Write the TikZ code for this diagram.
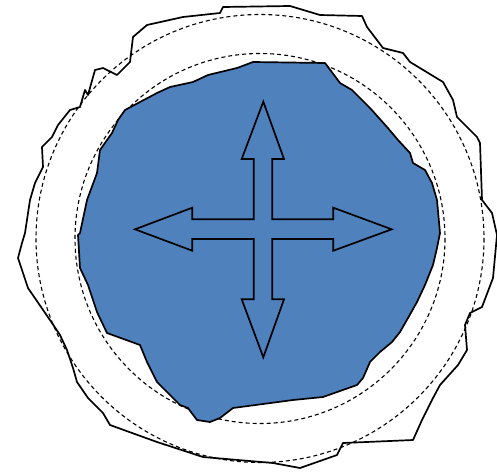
\documentclass[tikz,border=0pt]{standalone}
\usepackage{tikz}
\definecolor{cellblue}{HTML}{4F81BD}
\begin{document}
\begin{tikzpicture}[x=1pt,y=-1pt,
  rim/.style={draw=black,fill=white,line width=1.7pt,line join=round},
  cell/.style={draw=black,fill=cellblue,line width=1.7pt,line join=round},
  ring/.style={draw=black,dash pattern=on 4pt off 3pt,line width=1.1pt},
  push/.style={draw=black,line width=1.7pt,line join=miter}]
\useasboundingbox (0,0) rectangle (497,471);
\draw[rim] (223,7) -- (290,6) -- (320,15) -- (362,16) -- (367,27) -- (383,48) -- (403,53)
  -- (410,62) -- (443,82) -- (453,100) -- (457,117) -- (477,137) -- (480,143) -- (482,200)
  -- (492,213) -- (497,235) -- (493,278) -- (482,307) -- (470,313) -- (465,325) -- (467,350)
  -- (458,365) -- (440,385) -- (433,398) -- (422,420) -- (413,440) -- (343,443) -- (337,455)
  -- (300,468) -- (273,463) -- (203,457) -- (157,442) -- (110,425) -- (103,413) -- (88,398)
  -- (77,382) -- (73,368) -- (67,350) -- (60,335) -- (52,323) -- (28,288) -- (18,258)
  -- (22,243) -- (25,233) -- (30,200) -- (35,183) -- (43,167) -- (42,147) -- (52,137)
  -- (58,125) -- (70,110) -- (80,107) -- (85,90) -- (88,95) -- (95,70) -- (103,68)
  -- (117,75) -- (130,62) -- (133,37) -- (147,25) -- (183,17) -- (220,13) -- cycle;
\draw[ring] (260,238.5) circle[radius=224];
\draw[ring] (260,238.5) circle[radius=185];
\draw[cell] (253,62) -- (325,63) -- (340,83) -- (352,90) -- (370,108) -- (387,127) -- (398,140)
  -- (410,153) -- (413,163) -- (425,170) -- (432,183) -- (437,200) -- (440,233) -- (437,248)
  -- (433,265) -- (425,285) -- (417,302) -- (408,318) -- (400,332) -- (392,342) -- (380,352)
  -- (370,362) -- (363,378) -- (357,385) -- (323,397) -- (293,400) -- (233,408) -- (220,418)
  -- (210,422) -- (197,420) -- (188,408) -- (180,405) -- (157,382) -- (147,362) -- (140,345)
  -- (107,333) -- (97,312) -- (88,285) -- (80,268) -- (78,235) -- (80,233) -- (87,200)
  -- (97,173) -- (100,150) -- (112,133) -- (118,120) -- (125,110) -- (140,102) -- (157,93)
  -- (170,87) -- (193,82) -- (208,75) -- (237,68) -- cycle;
\draw[push] (263.3,101.7) -- (284,159) -- (272.3,159) -- (272.3,219.3) -- (333.3,219.3)
  -- (333.3,207.7) -- (391.7,229.3) -- (333.3,250.7) -- (333.3,239) -- (272.3,239)
  -- (272.3,299.3) -- (284,299.3) -- (263.3,357.3) -- (241.7,299.3) -- (253.7,299.3)
  -- (253.7,239) -- (192.3,239) -- (192.3,250.7) -- (135,229.3) -- (192.3,207.7)
  -- (192.3,219.3) -- (253.7,219.3) -- (253.7,159) -- (241.7,159) -- cycle;
\end{tikzpicture}
\end{document}
